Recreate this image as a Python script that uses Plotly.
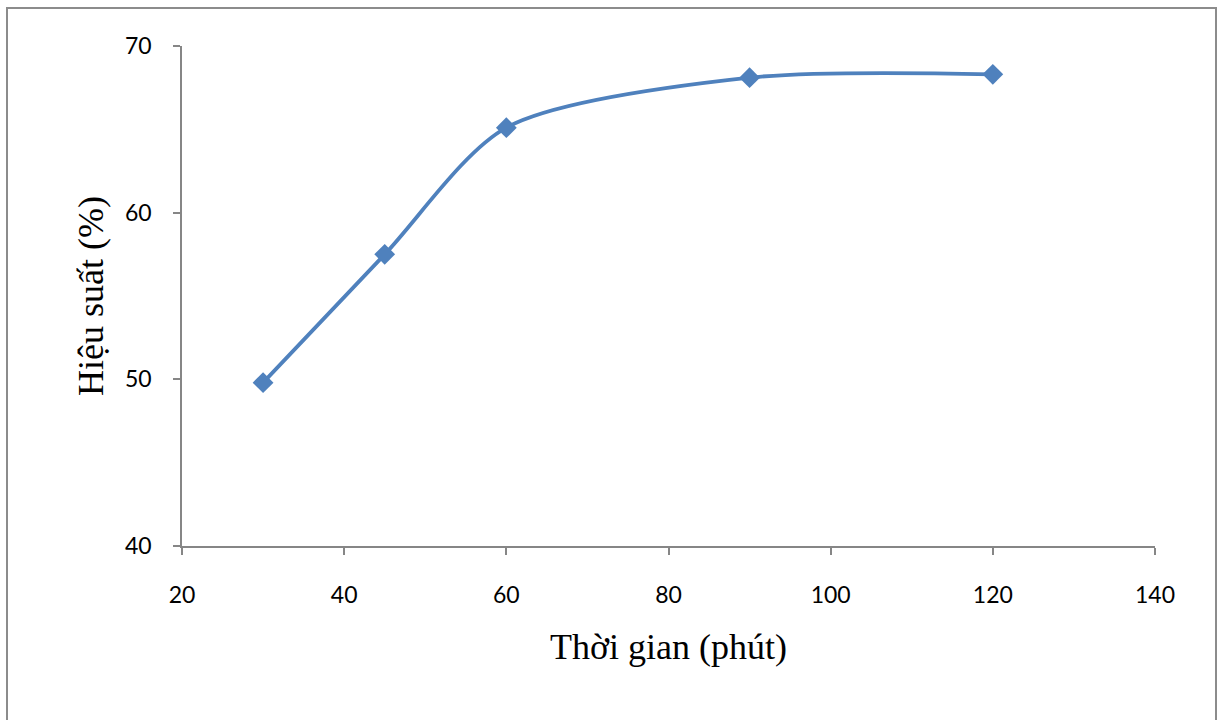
import plotly.graph_objects as go

time_min = [30, 45, 60, 90, 120]
yield_pct = [49.8, 57.5, 65.1, 68.1, 68.3]

x_ticks = [20, 40, 60, 80, 100, 120, 140]
y_ticks = [40, 50, 60, 70]

fig = go.Figure()
fig.add_trace(go.Scatter(
    x=time_min, y=yield_pct, mode="lines+markers",
    line=dict(color="#4F81BD", width=3.8, shape="spline", smoothing=0.8),
    marker=dict(symbol="diamond", size=16, color="#4F81BD"),
    showlegend=False,
))

W, H = 1218, 720
L, R, T, B = 182, 63, 46, 174
pw, ph = W - L - R, H - T - B

def px(x):
    return (x - L) / pw

def py(y):
    return (H - B - y) / ph

fig.add_shape(type="rect", xref="paper", yref="paper",
              x0=px(7), x1=px(1216), y0=py(8), y1=py(722),
              line=dict(color="#8C8C8C", width=2), fillcolor="rgba(0,0,0,0)", layer="below")

axis_common = dict(showgrid=False, zeroline=False, showline=True, linecolor="#868686", linewidth=1.5,
                   ticks="outside", ticklen=7, tickcolor="#868686", tickwidth=1.5,
                   tickfont=dict(family="Lato, Carlito, sans-serif", size=23, color="#000000"))

fig.update_layout(
    width=W, height=H,
    margin=dict(l=L, r=R, t=T, b=B),
    paper_bgcolor="white", plot_bgcolor="white",
    xaxis=dict(range=[20, 140], tickvals=x_ticks, ticklabelstandoff=21,
               title=dict(text="Thời gian (phút)", standoff=26,
                          font=dict(family="Liberation Serif, Times New Roman, serif", size=36, color="#000000")),
               **axis_common),
    yaxis=dict(range=[40, 70], tickvals=y_ticks, ticklabelstandoff=17,
               title=dict(text="Hiệu suất (%)", standoff=10,
                          font=dict(family="Liberation Serif, Times New Roman, serif", size=36, color="#000000")),
               **axis_common),
)

fig.write_html("out.html")
